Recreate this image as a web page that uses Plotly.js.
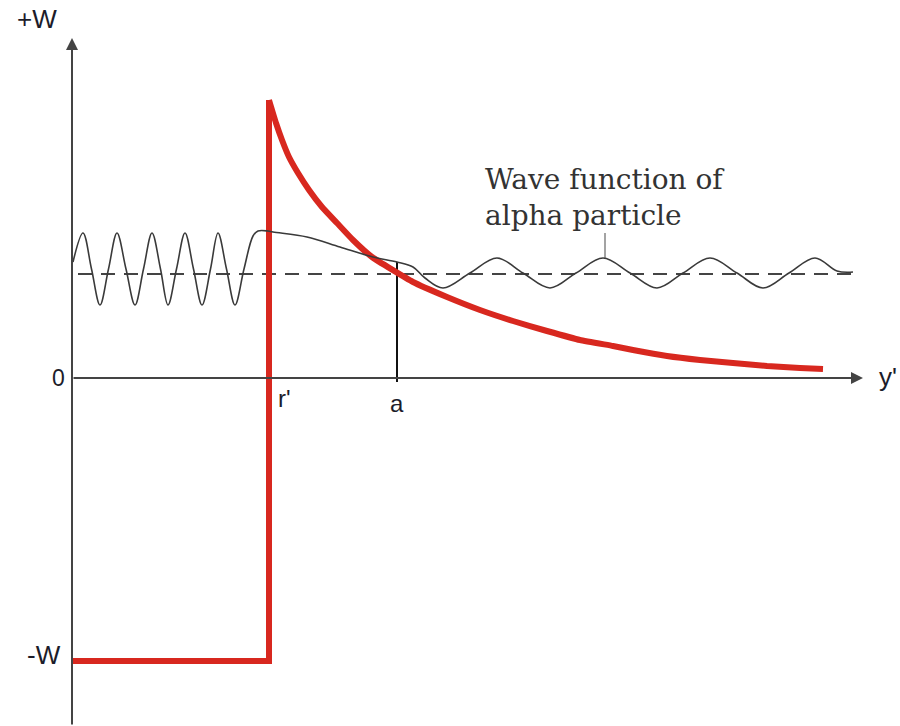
<!DOCTYPE html>
<html>
<head>
<meta charset="utf-8">
<script src="https://cdn.plot.ly/plotly-3.0.1.min.js"></script>
<style>html,body{margin:0;padding:0;background:#fff;}#chart{width:900px;height:726px;}</style>
</head>
<body>
<div id="chart"></div>
<script>
// Potential energy curve (red): square well then Coulomb barrier
const wellX = [0, 197, 197];
const wellY = [-283, -283, 278];
const barrierX = [197, 204, 210, 217, 226, 237, 250, 265, 281, 300, 341, 375, 408, 441, 475, 508, 541, 561, 595, 628, 661, 695, 728, 751];
const barrierY = [278, 255, 238, 221, 205, 188, 171, 155, 138, 121, 96, 81, 68, 57, 47, 38, 32, 28, 22, 18, 15, 12, 10, 9];

// Wave function of the alpha particle (thin dark line)
const waveX = [1, 11, 19.5, 28, 36.5, 45, 54, 63, 71.5, 80, 88.5, 96, 104.5, 113, 121.5, 130, 138.5, 146, 154.5, 163, 172, 181, 186, 196, 201, 235, 268, 301, 325, 341, 353, 371, 398, 425, 451, 478, 504, 531, 558, 585, 611, 638, 665, 691, 717, 743, 765, 781];
const waveY = [116, 145, 109, 73, 109, 145, 109, 73, 109, 145, 109, 73, 109, 145, 109, 73, 109, 145, 109, 73, 109, 142, 147, 147, 146, 141, 131, 121, 116, 111, 100, 90, 105, 120, 105, 90, 105, 120, 105, 90, 105, 120, 105, 90, 105, 120, 107, 106];

// Energy level of the alpha particle (dashed)
const levelX = [6, 783];
const levelY = [104, 104];

// Marker at r = a
const aLineX = [325, 325];
const aLineY = [116, -4];

// Pointer from label to the wave
const pointerX = [533, 533];
const pointerY = [145, 120];

// Axis extents
const xAxisTail = [0, 0];
const xAxisTip = [791, 0];
const yAxisTail = [0, -348];
const yAxisTip = [0, 340];

// Labels
const labels = [
  {text: '+W', x: -35, y: 359, size: 26},
  {text: '0', x: -14, y: 0, size: 23},
  {text: "r'", x: 212, y: -20, size: 24},
  {text: 'a', x: 325, y: -25, size: 24},
  {text: "y'", x: 816, y: 1, size: 26},
  {text: '-W', x: -28, y: -277, size: 26}
];
const waveLabel = 'Wave function of<br>alpha particle';

const traces = [
  {x: levelX, y: levelY, mode: 'lines', line: {color: '#444', width: 2, dash: '14px,9px'}, hoverinfo: 'skip'},
  {x: aLineX, y: aLineY, mode: 'lines', line: {color: '#111', width: 2}, hoverinfo: 'skip'},
  {x: pointerX, y: pointerY, mode: 'lines', line: {color: '#666', width: 1.2}, hoverinfo: 'skip'},
  {x: wellX, y: wellY, mode: 'lines', line: {color: '#d8281f', width: 6, shape: 'linear'}, hoverinfo: 'skip'},
  {x: barrierX, y: barrierY, mode: 'lines', line: {color: '#d8281f', width: 6, shape: 'spline', smoothing: 0.4}, hoverinfo: 'skip'},
  {x: waveX, y: waveY, mode: 'lines', line: {color: '#3a3a3a', width: 1.6, shape: 'spline', smoothing: 1}, hoverinfo: 'skip'}
];

const annotations = [
  {x: xAxisTip[0], y: xAxisTip[1], ax: xAxisTail[0], ay: xAxisTail[1], xref: 'x', yref: 'y', axref: 'x', ayref: 'y',
   showarrow: true, arrowhead: 2, arrowsize: 1.2, arrowwidth: 2, arrowcolor: '#444', text: ''},
  {x: yAxisTip[0], y: yAxisTip[1], ax: yAxisTail[0], ay: yAxisTail[1], xref: 'x', yref: 'y', axref: 'x', ayref: 'y',
   showarrow: true, arrowhead: 2, arrowsize: 1.2, arrowwidth: 2, arrowcolor: '#444', text: ''},
  {x: 411, y: 181, xref: 'x', yref: 'y', xanchor: 'left', yanchor: 'middle', align: 'left', showarrow: false,
   text: waveLabel, font: {family: 'DejaVu Serif', size: 28, color: '#333'}}
];
labels.forEach(l => annotations.push({
  x: l.x, y: l.y, xref: 'x', yref: 'y', showarrow: false, text: l.text,
  font: {family: 'Liberation Sans, Arial', size: l.size, color: '#1c1c2a'}
}));

const layout = {
  width: 900, height: 726,
  margin: {l: 0, r: 0, t: 0, b: 0},
  paper_bgcolor: '#fff', plot_bgcolor: '#fff',
  showlegend: false,
  xaxis: {range: [-72, 828], visible: false, fixedrange: true},
  yaxis: {range: [-348, 378], visible: false, fixedrange: true},
  annotations: annotations
};

Plotly.newPlot('chart', traces, layout, {staticPlot: true, displayModeBar: false});
</script>
</body>
</html>
